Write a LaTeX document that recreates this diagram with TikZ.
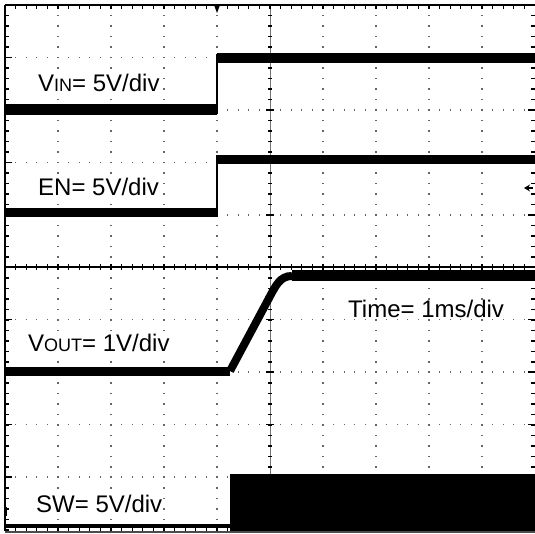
\documentclass[tikz,border=0pt]{standalone}
\usepackage{xcolor}
\usepackage{tikz}
\usepackage{fontspec}
\setmainfont{Liberation Sans}
\usetikzlibrary{arrows.meta}

\tikzset{
  trace/.style={line width=10.5pt, draw=black},
  edge/.style={line width=1.4pt, draw=black},
  griddot/.style={fill=black!60},
  tick/.style={line width=1.1pt, draw=black},
  scaletext/.style={anchor=base west, inner sep=1pt, fill=white, font=\fontsize{24}{28}\selectfont},
}
\newcommand{\smallcap}[1]{{\fontsize{18}{20}\selectfont #1}}

\begin{document}
\begin{tikzpicture}[x=1pt,y=-1pt]
  \def\L{5};
  \def\R{535};
  \def\T{5};
  \def\M{267};
  \def\B{531};
  \def\dx{53};
  \def\dy{10.5}; %one minor step%
  \useasboundingbox (0,0) rectangle (535,534);

  \foreach \i in {1,...,9}
    \foreach \j in {1,...,50}
      \fill[griddot] ({\L+\dx*\i-0.6},{\T+\dy*\j-0.6}) rectangle ++(1.2,1.2);
  \foreach \k in {57.5,110,162.5,215,319.5,372,424.5,477}
    \foreach \i in {1,...,49}
      \fill[griddot] ({\L+10.6*\i-0.6},{\k-0.6}) rectangle ++(1.2,1.2);

  \draw[line width=0.5pt, black!55] (270,\T) -- (270,\B); %centre axis%
  \foreach \j in {1,...,50} {
    \draw[tick] (\L,{\T+\dy*\j}) -- ++(4,0);
    \draw[tick] (268,{\T+\dy*\j}) -- ++(4,0);
    \draw[tick] (531,{\T+\dy*\j}) -- ++(4,0);
  }
  \foreach \k in {57.5,110,162.5,215,319.5,372,424.5,477} {
    \draw[tick] (\L,\k) -- ++(7,0);
    \draw[tick] (266,\k) -- ++(8,0);
    \draw[tick] (528,\k) -- ++(7,0);
  }
  \foreach \i in {1,...,49} {
    \draw[tick] ({\L+10.6*\i},\T) -- ++(0,4);
    \draw[tick] ({\L+10.6*\i},{\M-3}) -- ++(0,6);
    \draw[tick] ({\L+10.6*\i},\B) -- ++(0,-4);
  }

  \draw[line width=2pt] (\L,\T) -- (\R,\T); %top%
  \draw[edge] (\L,\T) -- (\L,\B);
  \draw[line width=2pt] (\L,\M) -- (\R,\M); %split%
  \draw[line width=2pt, black!70] (\L,532) -- (\R,532);

  \coordinate (trig) at (217,\T);
  \fill (214,\T) -- (220,\T) -- (217,13) -- cycle; %trigger%

  % VIN
  \draw[trace] (\L,109.5) -- (217,109.5);
  \draw[edge] (217,114) -- (217,54);
  \draw[trace] (217,58) -- (\R,58);
  % EN
  \draw[trace, line width=9.5pt] (\L,212.5) -- (217,212.5);
  \draw[edge] (217,217) -- (217,155);
  \draw[trace, line width=9.5pt] (217,159.5) -- (\R,159.5);
  \draw[-{Stealth[length=6pt,width=7pt]}, line width=1.6pt] (533,188) -- (524,188);
  % VOUT
  \coordinate (vlo) at (230,371);
  \coordinate (vhi) at (292,276);
  \draw[trace, line width=9pt] (\L,371) -- (vlo);
  \draw[line width=8pt] (vlo) -- (268,300) .. controls (276,285) and (280,276) .. (vhi);
  \draw[trace, line width=11pt] (vhi) -- (\R,276);
  % SW
  \draw[line width=4pt] (\L,526) -- (231,526);
  \fill (230,474) rectangle (\R,531);
  \draw[line width=2pt] (6,507) -- (6,516); %marker%

  \node[scaletext] (vin) at (37,92) {V\smallcap{IN}= 5V/div};
  \node[scaletext] (en) at (37,196) {EN= 5V/div};
  \node[scaletext] (vout) at (27,351) {V\smallcap{OUT}= 1V/div};
  \node[scaletext] (time) at (347,318) {Time= 1ms/div};
  \node[scaletext] (sw) at (35,512) {SW= 5V/div};
\end{tikzpicture}
\end{document}
